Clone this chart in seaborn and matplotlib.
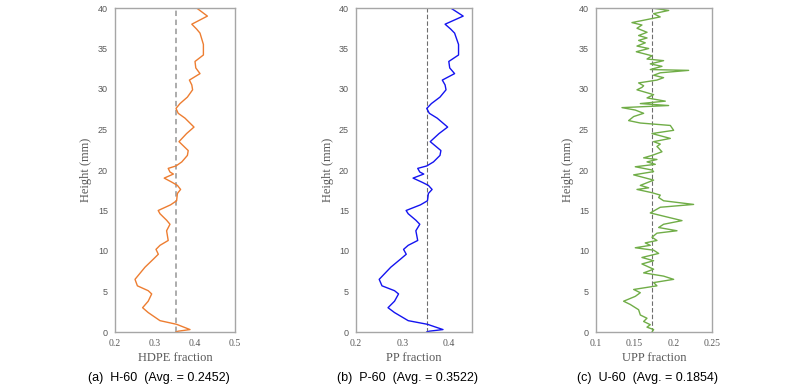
import matplotlib
matplotlib.use("Agg")
import matplotlib.pyplot as plt
import seaborn as sns
import pandas as pd

# ---------------- data ----------------
hdpe_height = [40.0, 39.0, 38.0, 37.4, 36.9, 35.5, 34.2, 33.4, 32.6, 31.9, 31.1, 30.5, 29.9, 29.0,
               28.2, 27.6, 27.0, 26.4, 25.3, 24.5, 23.5, 22.4, 21.8, 21.0, 20.5, 20.2, 19.75, 19.5,
               19.0, 18.5, 18.1, 17.6, 17.1, 16.2, 15.7, 15.0, 14.6, 13.8, 13.3, 12.5, 11.3, 10.7,
               10.2, 9.6, 9.0, 8.0, 6.5, 5.7, 5.1, 4.7, 3.8, 3.0, 2.4, 1.4, 0.95, 0.3, 0.1, 0.0]
hdpe_value = [0.404, 0.431, 0.392, 0.404, 0.4125, 0.421, 0.421, 0.400, 0.402, 0.4125, 0.386, 0.392,
              0.394, 0.381, 0.3625, 0.3525, 0.358, 0.375, 0.3975, 0.379, 0.360, 0.383, 0.381, 0.367,
              0.3525, 0.333, 0.3375, 0.346, 0.323, 0.342, 0.356, 0.364, 0.356, 0.354, 0.339, 0.308,
              0.3125, 0.329, 0.3375, 0.329, 0.333, 0.3125, 0.3025, 0.3083, 0.296, 0.275, 0.250,
              0.256, 0.283, 0.2917, 0.283, 0.269, 0.283, 0.3125, 0.354, 0.3875, 0.358, 0.352]

pp_height = list(hdpe_height)
pp_value = list(hdpe_value)

upp_height = [40.0, 39.7, 39.3, 38.9, 38.2, 37.9, 37.5, 37.0, 36.6, 36.3, 36.0, 35.7, 35.3, 35.0,
              34.6, 34.1, 33.7, 33.5, 33.1, 32.8, 32.4, 32.3, 32.0, 31.7, 31.4, 31.1, 30.75, 30.4,
              30.2, 29.9, 29.3, 28.9, 28.5, 28.2, 27.96, 27.7, 27.4, 27.0, 26.6, 26.1, 25.8, 25.5,
              24.9, 24.5, 23.9, 23.5, 23.2, 22.9, 22.7, 22.25, 21.8, 21.5, 21.3, 21.0, 20.7, 20.4,
              20.0, 19.8, 19.4, 18.75, 18.1, 17.8, 17.6, 17.2, 16.9, 16.6, 16.2, 15.75, 15.4, 14.7,
              14.2, 13.75, 13.3, 12.9, 12.5, 12.2, 11.7, 11.3, 11.0, 10.7, 10.4, 10.1, 9.7, 9.2,
              8.8, 8.4, 7.75, 7.3, 6.9, 6.5, 6.1, 5.7, 5.25, 4.85, 4.4, 3.8, 3.4, 2.75, 2.1, 1.7,
              1.3, 0.9, 0.6, 0.3, 0.0]
upp_value = [0.172, 0.194, 0.1745, 0.183, 0.1465, 0.1594, 0.153, 0.166, 0.1551, 0.166, 0.1551,
             0.1637, 0.153, 0.1681, 0.1521, 0.1724, 0.166, 0.1874, 0.1702, 0.1853, 0.1702, 0.2198,
             0.1831, 0.1745, 0.1874, 0.1788, 0.1551, 0.1616, 0.1594, 0.153, 0.1745, 0.166, 0.1896,
             0.1573, 0.1939, 0.1336, 0.1508, 0.1616, 0.1487, 0.1422, 0.1573, 0.1961, 0.2004, 0.1724,
             0.1961, 0.1745, 0.1831, 0.1788, 0.181, 0.1853, 0.1724, 0.1616, 0.1788, 0.166, 0.1767,
             0.1508, 0.1724, 0.1745, 0.1487, 0.1745, 0.1573, 0.1681, 0.153, 0.1724, 0.1831, 0.181,
             0.1874, 0.2262, 0.1831, 0.1702, 0.1918, 0.2112, 0.1874, 0.181, 0.2047, 0.1788, 0.1724,
             0.1788, 0.1637, 0.1702, 0.1508, 0.1745, 0.181, 0.1594, 0.1745, 0.1594, 0.1745, 0.1616,
             0.1874, 0.2004, 0.1745, 0.1788, 0.1487, 0.1573, 0.1508, 0.1357, 0.1443, 0.1551, 0.1573,
             0.1659, 0.1616, 0.1702, 0.1659, 0.1745, 0.1724]

x_labels = ["HDPE fraction", "PP fraction", "UPP fraction"]
captions = ["(a)  H-60  (Avg. = 0.2452)", "(b)  P-60  (Avg. = 0.3522)", "(c)  U-60  (Avg. = 0.1854)"]
ref_lines = [0.352, 0.352, 0.172]
x_limits = [(0.2, 0.5), (0.2, 0.45), (0.1, 0.25)]
x_ticks = [[0.2, 0.3, 0.4, 0.5], [0.2, 0.3, 0.4], [0.1, 0.15, 0.2, 0.25]]
x_ticklabels = [["0.2", "0.3", "0.4", "0.5"], ["0.2", "0.3", "0.4"], ["0.1", "0.15", "0.2", "0.25"]]
y_ticks = [0, 5, 10, 15, 20, 25, 30, 35, 40]

# ---------------- style ----------------
sns.set_theme(style="white")
plt.rcParams['font.family'] = ['Liberation Sans', 'DejaVu Sans']

colors = ["#ED7D31", "#1414F0", "#70AD47"]
dash_colors = ["#A6A6A6", "#6E6E6E", "#6E6E6E"]
dash_widths = [1.3, 0.8, 0.8]

series = [(hdpe_height, hdpe_value), (pp_height, pp_value), (upp_height, upp_value)]

fig = plt.figure(figsize=(8.0, 3.89), dpi=100)
W, H = 800.0, 389.0
lefts = [115, 356, 596]
widths = [120, 116, 116]
top_px, bot_px = 8, 332
cap_x = [88, 337, 577]

for i in range(3):
    ax = fig.add_axes([lefts[i] / W, 1 - bot_px / H, widths[i] / W, (bot_px - top_px) / H])
    hgt, val = series[i]
    df = pd.DataFrame({"value": val, "height": hgt})
    sns.lineplot(data=df, x="value", y="height", sort=False, estimator=None,
                 color=colors[i], linewidth=1.0, ax=ax)
    ax.axvline(ref_lines[i], color=dash_colors[i], linestyle=(0, (3, 2)) if i == 0 else (0, (4, 2)),
               linewidth=dash_widths[i], zorder=1)
    ax.set_xlim(*x_limits[i])
    ax.set_ylim(0, 40)
    ax.set_xticks(x_ticks[i])
    ax.set_xticklabels(x_ticklabels[i], family=['Liberation Serif'], fontsize=7, color="#595959")
    ax.set_yticks(y_ticks)
    ax.set_yticklabels([str(t) for t in y_ticks], fontsize=6.5, color="#595959")
    ax.tick_params(axis='both', length=0, pad=5)
    ax.set_xlabel(x_labels[i], family=['Liberation Serif'], fontsize=9, color="#595959", labelpad=3)
    ax.set_ylabel("Height (mm)", family=['Liberation Serif'], fontsize=9, color="#595959", labelpad=4)
    for s in ax.spines.values():
        s.set_color("#A6A6A6")
        s.set_linewidth(1.0)
        s.set_visible(True)
    fig.text(cap_x[i] / W, 1 - 378 / H, captions[i], fontsize=9, color="black",
             ha="left", va="center")

fig.savefig("out.png", dpi=100)
